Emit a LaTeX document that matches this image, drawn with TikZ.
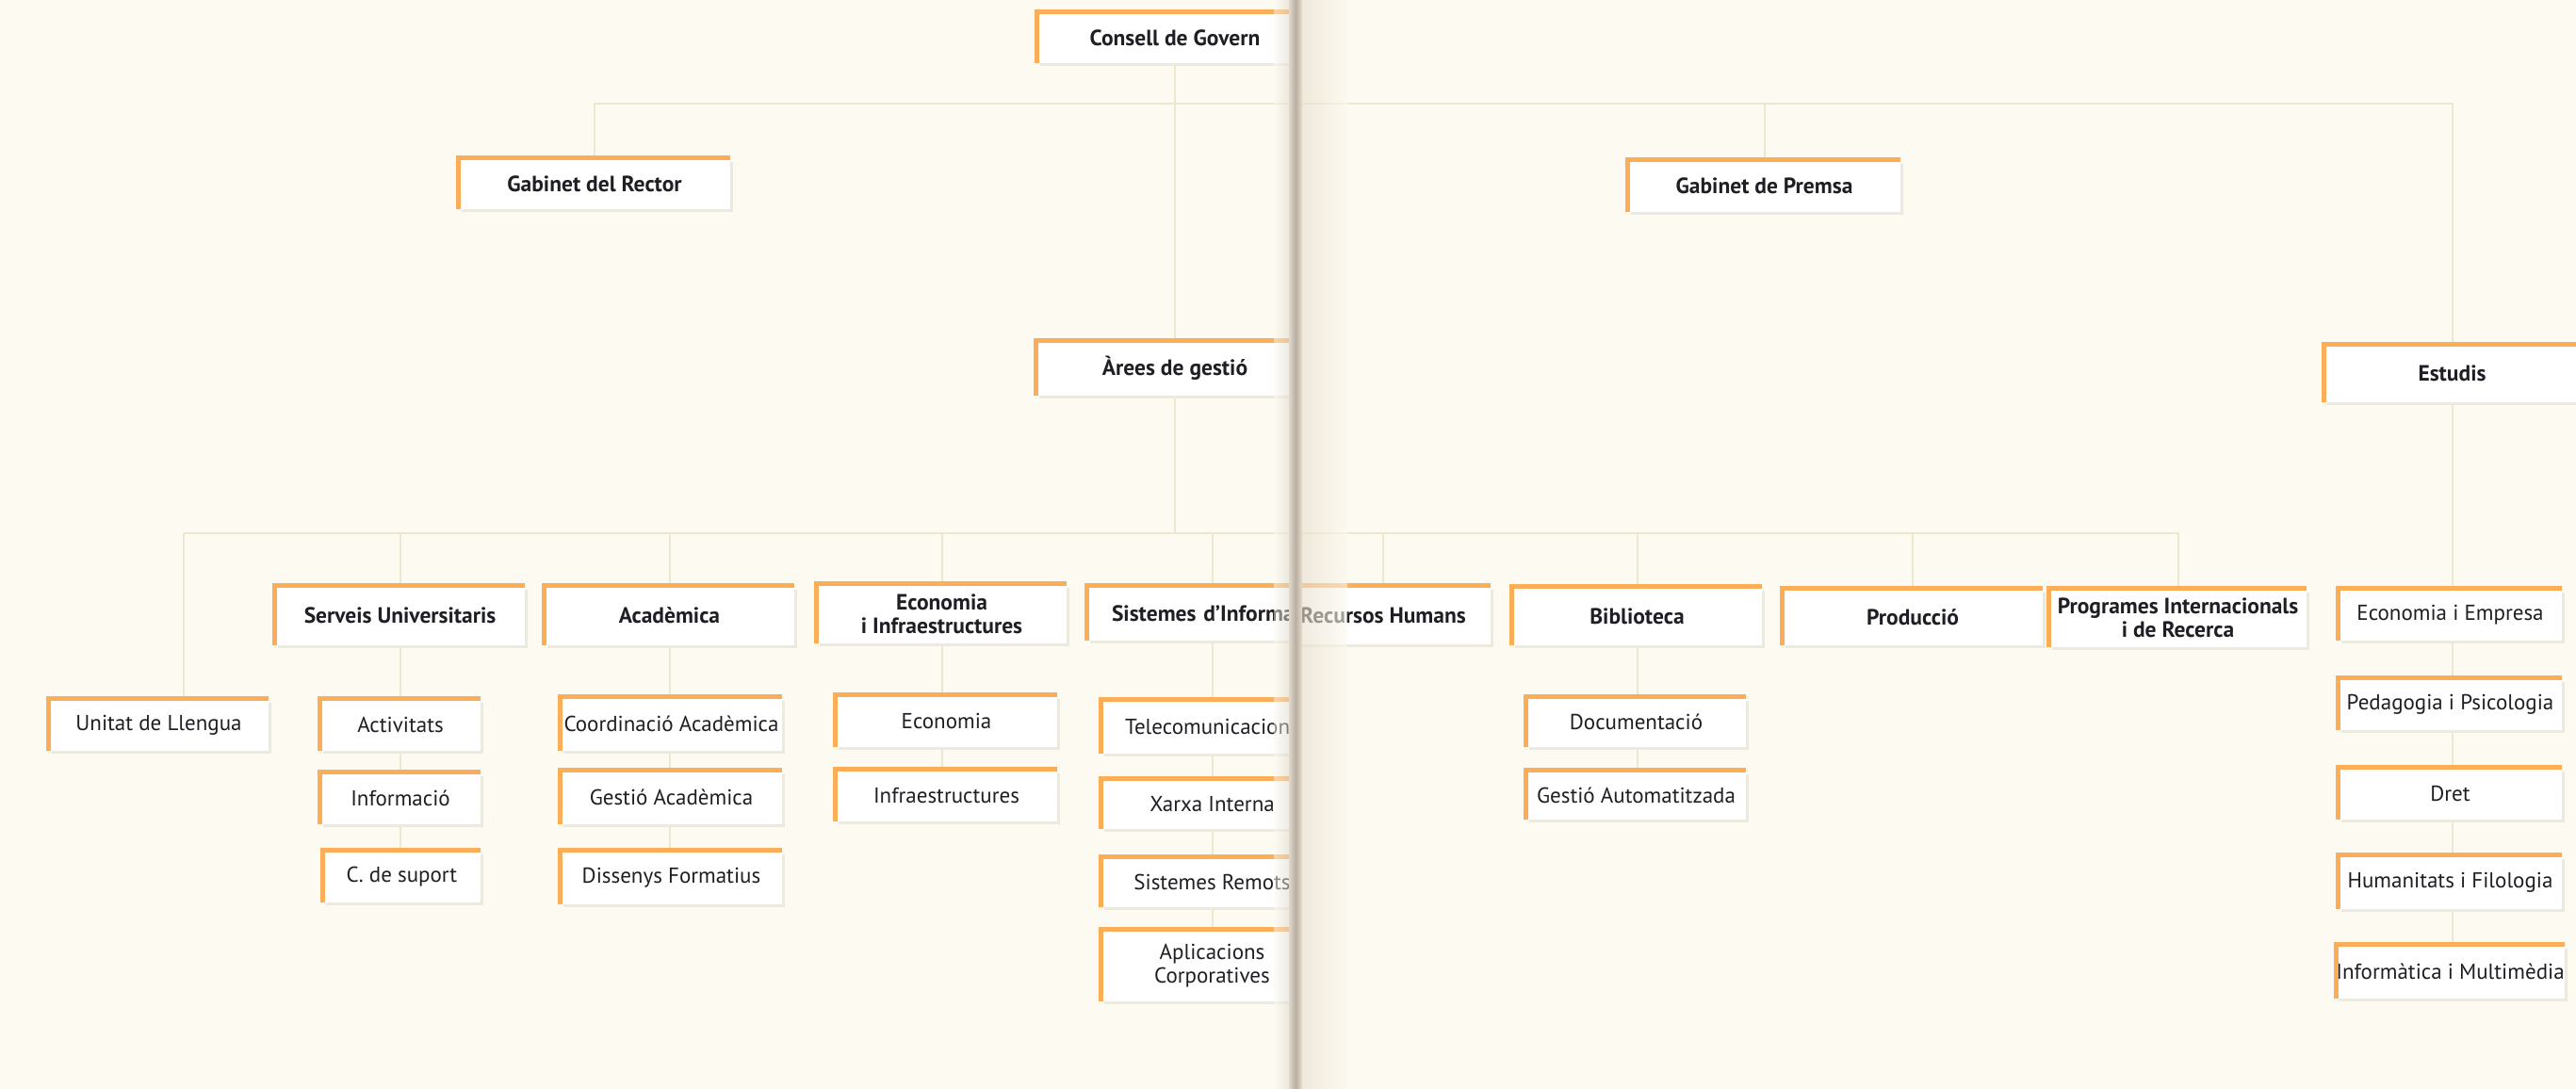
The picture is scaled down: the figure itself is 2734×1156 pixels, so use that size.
\documentclass[tikz,border=0pt]{standalone}
\usepackage{fontspec}
\setmainfont{PT Sans}
\usetikzlibrary{backgrounds}
\definecolor{bgc}{RGB}{252,250,241}
\definecolor{connc}{RGB}{238,231,208}
\definecolor{orng}{RGB}{251,173,87}
\definecolor{shd}{RGB}{236,233,222}
\definecolor{ink}{RGB}{30,30,36}
\definecolor{gutA}{RGB}{222,216,205}
\definecolor{gutD}{RGB}{185,175,162}
\definecolor{gutB}{RGB}{232,222,205}
\newcommand\obox[7]{%
  \pgfmathsetmacro\oW{#4-#2}%
  \pgfmathsetmacro\oH{#5-#3}%
  \pgfmathsetmacro\oX{(#2+#4)/2}%
  \pgfmathsetmacro\oY{(#3+#5)/2}%
  \node[box,#6,minimum width=\oW pt,minimum height=\oH pt] (#1) at (\oX,\oY) {#7};%
  \draw[draw=shd,line width=3pt] ([xshift=3pt,yshift=-1.5pt]#1.south west) -- ([xshift=1.5pt,yshift=-1.5pt]#1.south east) -- ([xshift=1.5pt,yshift=-4pt]#1.north east);%
  \draw[draw=orng,line width=5pt] (#1.south west) -- (#1.north west) -- (#1.north east);%
}
\begin{document}
\begin{tikzpicture}[x=1pt,y=-1pt,
  box/.style={fill=white,inner sep=0pt,align=center,text=ink},
  bld/.style={font=\fontsize{23.5}{25}\selectfont\bfseries},
  reg/.style={font=\fontsize{23}{25}\selectfont},
  conn/.style={draw=connc,line width=2pt}]
\useasboundingbox (0,0) rectangle (2734,1156);
% ---------- left page ----------
\begin{scope}
\clip (0,0) rectangle (1373,1156);
\obox{consell}{1101}{13}{1393}{67}{bld}{Consell de Govern}
\obox{rector}{487}{168}{775}{222}{bld}{Gabinet del Rector}
\obox{arees}{1100}{362}{1394}{420}{bld}{Àrees de gestió}
\obox{serveis}{292}{622}{557}{685}{bld}{Serveis Universitaris}
\obox{academica}{578}{622}{843}{685}{bld}{Acadèmica}
\obox{econinf}{867}{620}{1132}{683}{bld}{Economia\\i Infraestructures}
\obox{sistemes}{1154}{622}{1420}{680}{bld,text width=214pt,align=left}{Sistemes d’Informa}
\obox{unitat}{52}{742}{285}{797}{reg}{Unitat de Llengua}
\obox{activitats}{340}{742}{510}{797}{reg}{Activitats}
\obox{informacio}{340}{820}{510}{875}{reg}{Informació}
\obox{suport}{343}{903}{510}{958}{reg}{C. de suport}
\obox{coord}{595}{740}{830}{797}{reg}{Coordinació Acadèmica}
\obox{gestioac}{595}{818}{830}{875}{reg}{Gestió Acadèmica}
\obox{dissenys}{595}{903}{830}{960}{reg}{Dissenys Formatius}
\obox{economia}{887}{738}{1122}{793}{reg}{Economia}
\obox{infra}{887}{817}{1122}{872}{reg}{Infraestructures}
\obox{telecom}{1169}{743}{1404}{800}{reg}{Telecomunicacions}
\obox{xarxa}{1169}{827}{1404}{880}{reg}{Xarxa Interna}
\obox{remots}{1169}{910}{1404}{963}{reg}{Sistemes Remots}
\obox{aplic}{1169}{987}{1404}{1063}{reg}{Aplicacions\\Corporatives}
\end{scope}
% ---------- right page ----------
\begin{scope}
\clip (1373,0) rectangle (2734,1156);
\obox{premsa}{1728}{170}{2017}{225}{bld}{Gabinet de Premsa}
\obox{estudis}{2467}{366}{2738}{427}{bld}{Estudis}
\obox{rrhh}{1354}{622}{1582}{684}{bld}{Recursos Humans}
\obox{biblioteca}{1605}{623}{1870}{685}{bld}{Biblioteca}
\obox{produccio}{1892}{625}{2168}{685}{bld}{Producció}
\obox{programes}{2175}{625}{2448}{687}{bld}{Programes Internacionals\\i de Recerca}
\obox{ecoemp}{2482}{625}{2719}{680}{reg}{Economia i Empresa}
\obox{docu}{1620}{740}{1853}{793}{reg}{Documentació}
\obox{gestauto}{1620}{818}{1853}{870}{reg}{Gestió Automatitzada}
\obox{pedag}{2482}{720}{2719}{775}{reg}{Pedagogia i Psicologia}
\obox{dret}{2482}{815}{2719}{870}{reg}{Dret}
\obox{human}{2482}{908}{2719}{965}{reg}{Humanitats i Filologia}
\obox{inform}{2482}{1003}{2719}{1060}{reg}{Informàtica i Multimèdia}
\end{scope}
% ---------- connectors (behind) ----------
\begin{pgfonlayer}{background}
\fill[bgc] (0,0) rectangle (2734,1156);
\coordinate (topbar) at (0,110);
\coordinate (lowbar) at (0,566);
\coordinate (ulink) at (195,566);
\draw[conn] (rector.north) -- (rector.north |- topbar) -- (estudis.north |- topbar) -- (estudis.north);
\draw[conn] (premsa.north) -- (premsa.north |- topbar);
\draw[conn] (consell.south) -- (consell.south |- arees.north);
\draw[conn] (arees.south) -- (arees.south |- lowbar);
\draw[conn] (ulink) -- (ulink |- unitat.north);
\draw[conn] (ulink) -- (programes.north |- lowbar) -- (programes.north);
\foreach \n in {serveis,academica,econinf,sistemes,rrhh,biblioteca,produccio}
  \draw[conn] (\n.north) -- (\n.north |- lowbar);
\draw[conn] (serveis.south) -- (serveis.south |- suport.north);
\draw[conn] (academica.south) -- (academica.south |- dissenys.north);
\draw[conn] (econinf.south) -- (econinf.south |- infra.north);
\draw[conn] (sistemes.south) -- (sistemes.south |- aplic.north);
\draw[conn] (biblioteca.south) -- (biblioteca.south |- gestauto.north);
\draw[conn] (estudis.south) -- (estudis.south |- inform.north);
\end{pgfonlayer}
% ---------- gutter ----------
\shade[left color=bgc, right color=gutA, opacity=0.5] (1352,0) rectangle (1368,1156);
\shade[left color=gutA, right color=gutD] (1368,0) rectangle (1375,1156);
\shade[left color=gutD, right color=gutB] (1375,0) rectangle (1382,1156);
\shade[left color=gutB, right color=bgc, opacity=0.6] (1382,0) rectangle (1430,1156);
\end{tikzpicture}
\end{document}
